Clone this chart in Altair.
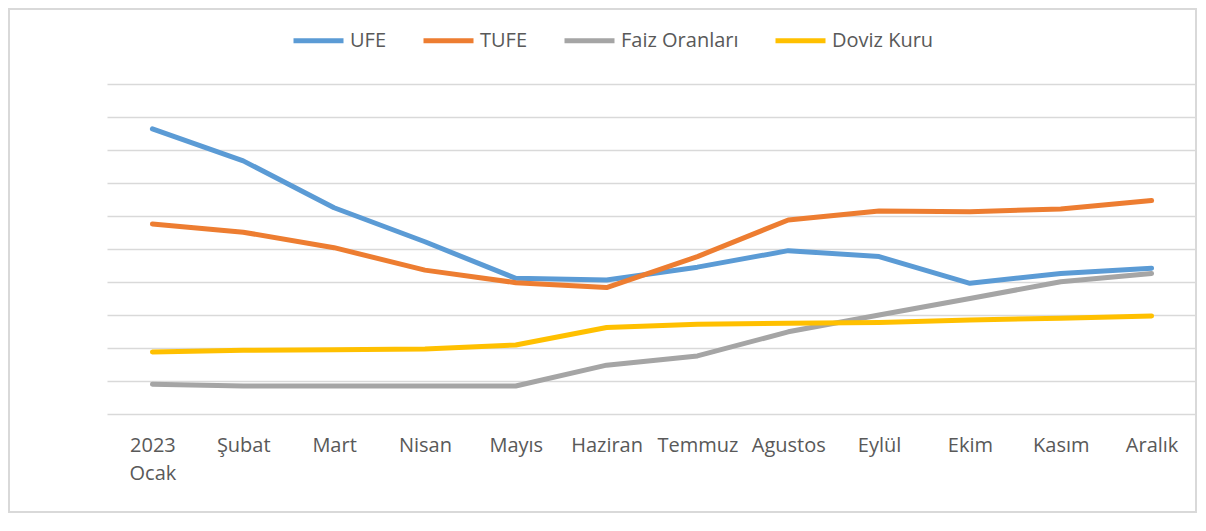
import altair as alt
import pandas as pd

months = ["2023 Ocak", "Şubat", "Mart", "Nisan", "Mayıs", "Haziran",
          "Temmuz", "Agustos", "Eylül", "Ekim", "Kasım", "Aralık"]
series_names = ["UFE", "TUFE", "Faiz Oranları", "Doviz Kuru"]
series_colors = ["#5b9bd5", "#ed7d31", "#a5a5a5", "#ffc000"]

ufe = [8.64, 7.67, 6.25, 5.22, 4.11, 4.06, 4.45, 4.95, 4.77, 3.96, 4.26, 4.42]
tufe = [5.76, 5.51, 5.04, 4.36, 3.98, 3.83, 4.77, 5.88, 6.15, 6.13, 6.21, 6.47]
faiz = [0.90, 0.85, 0.85, 0.85, 0.85, 1.48, 1.76, 2.49, 3.00, 3.50, 4.01, 4.26]
doviz = [1.88, 1.93, 1.95, 1.97, 2.09, 2.62, 2.72, 2.75, 2.77, 2.85, 2.90, 2.97]

grid_values = list(range(0, 11))

rows = []
for name, vals in zip(series_names, [ufe, tufe, faiz, doviz]):
    for m, v in zip(months, vals):
        rows.append({"Ay": m, "Seri": name, "Deger": v})
df = pd.DataFrame(rows)

W, H = 1090, 330
PL, PT, PR, PB = 99, 76, 0, 99

FONT = "Open Sans"
TXT = "#595959"

lines = alt.Chart(df).mark_line(strokeWidth=5, strokeCap="round", strokeJoin="round").encode(
    x=alt.X("Ay:N", sort=months, scale=alt.Scale(padding=0.5),
            axis=alt.Axis(title=None, domain=False, ticks=False, grid=False,
                          labelAngle=0, labelFontSize=20, labelColor=TXT, labelFont=FONT,
                          labelPadding=21, labelLineHeight=28, labelBaseline="top",
                          labelExpr="split(datum.label, ' ')")),
    y=alt.Y("Deger:Q", scale=alt.Scale(domain=[0, 10], nice=False, zero=True),
            axis=alt.Axis(title=None, labels=False, ticks=False, domain=False,
                          grid=True, values=grid_values, gridColor="#d9d9d9", gridWidth=1.5)),
    color=alt.Color("Seri:N", sort=series_names,
                    scale=alt.Scale(domain=series_names, range=series_colors),
                    legend=alt.Legend(title=None, orient="none", direction="horizontal",
                                      legendX=184, legendY=-71,
                                      symbolType="stroke", symbolSize=2500, symbolStrokeWidth=5,
                                      labelFontSize=20, labelColor=TXT, labelFont=FONT,
                                      labelOffset=4, columnPadding=26, labelLimit=300)),
    order=alt.Order("Seri:N"),
)

border = alt.Chart(pd.DataFrame({"a": [0]})).mark_rect(
    fill=None, stroke="#d9d9d9", strokeWidth=2
).encode(
    x=alt.value(-PL + 1), x2=alt.value(W + PR - 1),
    y=alt.value(-PT + 1), y2=alt.value(H + PB - 1),
)

chart = alt.layer(border, lines).properties(
    width=W, height=H,
    autosize=alt.AutoSizeParams(type="none"),
    padding={"left": PL, "top": PT, "right": PR, "bottom": PB},
).configure(
    background="white",
    view=alt.ViewConfig(strokeWidth=0, stroke="transparent"),
)

chart.save("out.html", embed_options={"renderer": "svg", "actions": False})
